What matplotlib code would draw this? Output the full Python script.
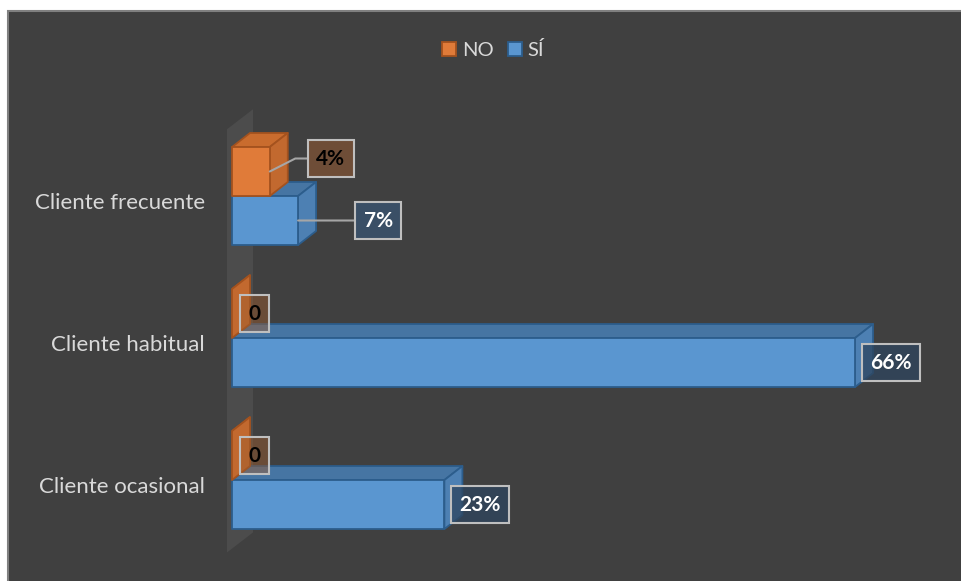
import numpy as np
import matplotlib
matplotlib.use("Agg")
import matplotlib.pyplot as plt
from matplotlib.patches import Polygon, Rectangle, Patch
from matplotlib.transforms import ScaledTranslation

# ---- data ----
categories = ["Cliente ocasional", "Cliente habitual", "Cliente frecuente"]
si_vals = [0.225, 0.66, 0.07]
no_vals = [0.0, 0.0, 0.04]
si_labels = ["23%", "66%", "7%"]
no_labels = ["0", "0", "4%"]
series_names = ["NO", "SÍ"]

# ---- style ----
plt.rcParams['font.family'] = ['Lato', 'DejaVu Sans']
BG = "#404040"
TXT = "#d9d9d9"
blue = dict(front="#5a96d0", top="#4675a3", side="#4d80b3", edge="#2c5d8c")
orange = dict(front="#e07b39", top="#c96c2e", side="#c2692f", edge="#a4521e")

W, H, DPI = 961, 581, 100
fig = plt.figure(figsize=(W / DPI, H / DPI), dpi=DPI, facecolor="white")
fig.patches.append(Rectangle((8 / W, -0.01), 1.02, 1 - 11 / H + 0.01,
                             transform=fig.transFigure, facecolor=BG,
                             edgecolor="#808080", lw=1.5, zorder=-5))

ax = fig.add_axes([232 / W, 1 - 560 / H, 708 / W, 460 / H])
ax.set_facecolor("none")
ax.set_xlim(0, 0.75)
ax.set_ylim(-0.563, 2.676)
for s in ax.spines.values():
  s.set_visible(False)
ax.set_xticks([])

# pixel -> data conversion
inv = ax.transData.inverted()
p0 = ax.transData.transform((0, 0))
def pix(dxp, dyp):
  q = inv.transform((p0[0] + dxp, p0[1] + dyp))
  return q[0], q[1]

bdx, bdy = pix(18, 14)   # bar depth
wdx, wdy = pix(26, 20)   # wall depth
wx0, _ = pix(-5, 0)
bh = pix(0, 49)[1]       # bar thickness

# back wall
ylo, yhi = -0.51, 2.47
ax.add_patch(Polygon([(wx0, ylo), (wx0 + wdx, ylo + wdy), (wx0 + wdx, yhi + wdy),
                      (wx0, yhi)], closed=True, facecolor="#4c4c4c",
                     edgecolor="none", zorder=1, clip_on=False))

def box3d(x1, yc, c):
  x0 = 0
  yb, yt = yc - bh / 2, yc + bh / 2
  kw = dict(closed=True, edgecolor=c["edge"], lw=1.3, joinstyle="round", zorder=3,
            clip_on=False)
  ax.add_patch(Polygon([(x0, yt), (x1, yt), (x1 + bdx, yt + bdy), (x0 + bdx, yt + bdy)],
                       facecolor=c["top"], **kw))
  ax.add_patch(Polygon([(x1, yb), (x1 + bdx, yb + bdy), (x1 + bdx, yt + bdy), (x1, yt)],
                       facecolor=c["side"], **kw))
  if x1 > 0:
    ax.add_patch(Polygon([(x0, yb), (x1, yb), (x1, yt), (x0, yt)],
                         facecolor=c["front"], **kw))

ypos = np.arange(len(categories))
for i, y in enumerate(ypos):
  box3d(si_vals[i], y - bh / 2, blue)
  box3d(no_vals[i], y + bh / 2, orange)

# data labels
FS = 15
pad = 0.4
padpx = pad * FS * DPI / 72
lab_kw = dict(fontsize=FS, fontweight="bold", textcoords="offset pixels",
              va="center", zorder=6)
gray = "#bfbfbf"
for i, y in enumerate(ypos):
  sy = y - bh / 2
  ny = y + bh / 2
  if i == 2:
    # moved labels with leader lines
    ax.annotate(si_labels[i], xy=(si_vals[i], sy), xytext=(80, 0), ha="center",
                color="white",
                bbox=dict(boxstyle=f"square,pad={pad}", fc="#3a4f66",
                          ec=gray, lw=1.5),
                arrowprops=dict(arrowstyle="-", color="#a6a6a6", lw=1.5,
                                shrinkA=0, shrinkB=0), **lab_kw)
    ax.annotate(no_labels[i], xy=(no_vals[i], ny), xytext=(61, 13), ha="center",
                color="black",
                bbox=dict(boxstyle=f"square,pad={pad}", fc="#6e4d37",
                          ec=gray, lw=1.5),
                arrowprops=dict(arrowstyle="-", color="#a6a6a6", lw=1.5,
                                shrinkA=0, shrinkB=0, relpos=(0, 0.5),
                                connectionstyle="angle,angleA=0,angleB=27,rad=0"),
                **lab_kw)
  else:
    ax.annotate(si_labels[i], xy=(si_vals[i], sy), xytext=(7 + padpx, 0),
                ha="left", color="white",
                bbox=dict(boxstyle=f"square,pad={pad}", fc=(0.18, 0.27, 0.37, 0.75),
                          ec=gray, lw=1.5), **lab_kw)
    ax.annotate(no_labels[i], xy=(no_vals[i], ny), xytext=(8 + padpx, 0),
                ha="left", color="black",
                bbox=dict(boxstyle=f"square,pad={pad}", fc=(0.62, 0.36, 0.18, 0.45),
                          ec=gray, lw=1.5), **lab_kw)

# category labels
ax.set_yticks(ypos)
ax.set_yticklabels(categories, fontsize=16, color=TXT)
ax.tick_params(axis="y", length=0, pad=27 * 72 / DPI)
for t in ax.get_yticklabels():
  t.set_transform(t.get_transform() + ScaledTranslation(0, -5 / DPI, fig.dpi_scale_trans))

# legend
handles = [Patch(facecolor=orange["front"], edgecolor=orange["edge"], lw=1.3),
           Patch(facecolor=blue["front"], edgecolor=blue["edge"], lw=1.3)]
leg = fig.legend(handles, series_names, loc="center", bbox_to_anchor=(493 / W, 1 - 50 / H),
                 ncol=2, frameon=False, fontsize=14.5, handlelength=0.7,
                 handleheight=0.7, handletextpad=0.3, columnspacing=0.7)
for t in leg.get_texts():
  t.set_color(TXT)

fig.savefig("out.png", dpi=DPI, facecolor="white")
